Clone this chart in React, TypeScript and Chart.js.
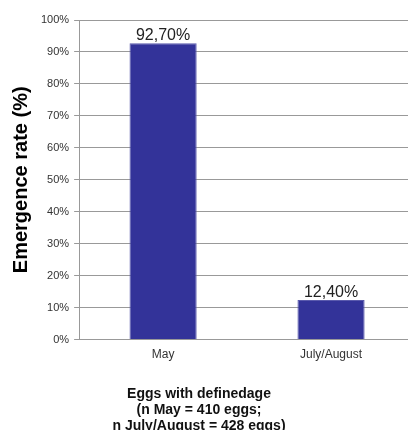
import React, { useEffect, useRef } from "react";
import { Chart, registerables } from "chart.js";

Chart.register(...registerables);

const categories = ["May", "July/August"];
const emergenceRates = [92.7, 12.4];
const valueLabels = ["92,70%", "12,40%"];
const yTickValues = [0, 10, 20, 30, 40, 50, 60, 70, 80, 90, 100];
const yTitle = "Emergence rate (%)";
const xTitleLines = ["Eggs with definedage", "(n May = 410 eggs;", "n July/August = 428 eggs)"];

const FONT = "'Liberation Sans', Arial, sans-serif";

const valueLabelPlugin = {
  id: "valueLabels",
  afterDatasetsDraw(chart: any) {
    const ctx = chart.ctx;
    const meta = chart.getDatasetMeta(0);
    ctx.save();
    ctx.font = `16px ${FONT}`;
    ctx.fillStyle = "#222222";
    ctx.textAlign = "center";
    ctx.textBaseline = "alphabetic";
    meta.data.forEach((bar: any, i: number) => {
      ctx.fillText(valueLabels[i], bar.x, bar.y - 3);
    });
    ctx.restore();
  },
};

const xTitlePlugin = {
  id: "xTitleLines",
  afterDraw(chart: any) {
    const ctx = chart.ctx;
    ctx.save();
    ctx.font = `bold 14px ${FONT}`;
    ctx.fillStyle = "#111111";
    ctx.textAlign = "center";
    ctx.textBaseline = "alphabetic";
    const cx = 199;
    const firstBaseline = chart.chartArea.bottom + 58;
    xTitleLines.forEach((line, i) => {
      ctx.fillText(line, cx, firstBaseline + i * 16);
    });
    ctx.restore();
  },
};

export default function App() {
  const ref = useRef<HTMLCanvasElement>(null);
  useEffect(() => {
    document.body.style.margin = "0";
    document.body.style.overflow = "hidden";
    const chart = new Chart(ref.current!, {
      type: "bar",
      data: {
        labels: categories,
        datasets: [
          {
            data: emergenceRates,
            backgroundColor: "#333399",
            borderColor: "#5a5aad",
            borderWidth: 1,
            barPercentage: 0.4,
            categoryPercentage: 1,
          },
        ],
      },
      options: {
        animation: false,
        responsive: false,
        layout: { padding: { top: 20, right: 0, left: 0, bottom: 60 } },
        plugins: {
          legend: { display: false },
          tooltip: { enabled: false },
        },
        scales: {
          x: {
            grid: { display: false, drawTicks: false },
            border: { color: "#999999" },
            ticks: { color: "#333333", font: { family: FONT, size: 12 }, padding: 8 },
          },
          y: {
            min: 0,
            max: 100,
            afterBuildTicks: (axis: any) => {
              axis.ticks = yTickValues.map((v) => ({ value: v }));
            },
            grid: { color: "#999999", tickLength: 5, lineWidth: 1 },
            border: { color: "#999999" },
            ticks: {
              color: "#333333",
              font: { family: FONT, size: 11 },
              padding: 5,
              callback: (v: any) => `${v}%`,
            },
            title: {
              display: true,
              text: yTitle,
              color: "#000000",
              font: { family: FONT, size: 20, weight: "bold", lineHeight: 1.2 },
              padding: { top: 9, bottom: 3 },
            },
          },
        },
      },
      plugins: [valueLabelPlugin, xTitlePlugin],
    });
    return () => chart.destroy();
  }, []);
  return (
    <div style={{ width: 408, height: 430, background: "#fff", overflow: "hidden" }}>
      <canvas ref={ref} width={415} height={430} />
    </div>
  );
}
